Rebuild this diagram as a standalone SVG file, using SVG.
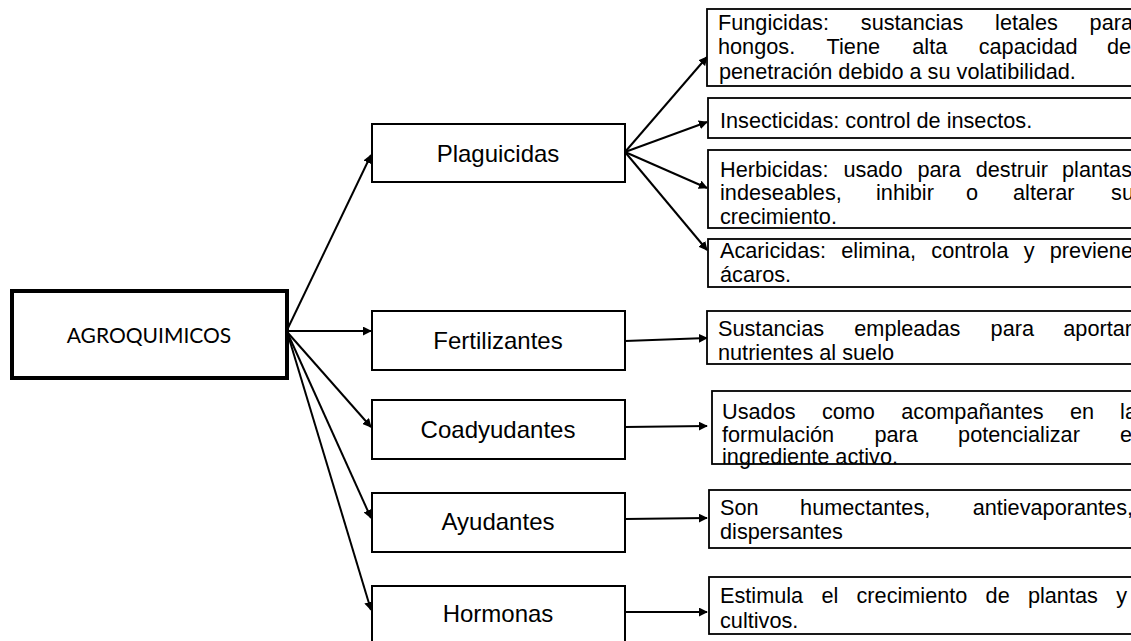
<svg xmlns="http://www.w3.org/2000/svg" width="1131" height="641" viewBox="0 0 1131 641">
<defs>
<style>
.bg{fill:#fff}
.root{fill:#fff;stroke:#000;stroke-width:4}
.mid{fill:#fff;stroke:#000;stroke-width:2}
.leaf{fill:#fff;stroke:#000;stroke-width:1.8}
.mt{font-family:"Liberation Sans",Arial,sans-serif;font-size:24px;fill:#000;text-anchor:middle}
.lt{font-family:"Liberation Sans",Arial,sans-serif;font-size:21.7px;fill:#000}
.e{text-anchor:end}
.rt{font-family:Lato,"Open Sans",sans-serif;font-size:21px;fill:#000;text-anchor:middle}
.c{fill:none;stroke:#000;stroke-width:2;marker-end:url(#ah)}
</style>
<marker id="ah" viewBox="0 0 10 10" refX="9" refY="5" markerWidth="4.5" markerHeight="4.5" orient="auto" markerUnits="strokeWidth">
<path d="M0,0 L10,5 L0,10 z" fill="#000"/>
</marker>
</defs>
<rect class="bg" x="0" y="0" width="1131" height="641"/>

<g id="connectors">
<line class="c" x1="288" y1="328" x2="371" y2="155"/>
<line class="c" x1="288" y1="331" x2="371" y2="331"/>
<line class="c" x1="288" y1="333" x2="371" y2="427"/>
<line class="c" x1="288" y1="334" x2="371" y2="518"/>
<line class="c" x1="288" y1="335" x2="371" y2="610"/>
<line class="c" x1="625" y1="152" x2="707" y2="57"/>
<line class="c" x1="625" y1="152" x2="707" y2="122"/>
<line class="c" x1="625" y1="152" x2="707" y2="188"/>
<line class="c" x1="625" y1="152" x2="707" y2="250"/>
<line class="c" x1="625" y1="341" x2="707" y2="338"/>
<line class="c" x1="625" y1="427" x2="707" y2="426"/>
<line class="c" x1="625" y1="519" x2="707" y2="518"/>
<line class="c" x1="625" y1="612" x2="707" y2="612"/>
</g>

<g id="agroquimicos">
<rect class="root" x="12" y="291" width="275" height="87"/>
<text class="rt" x="149" y="343">AGROQUIMICOS</text>
</g>

<g id="plaguicidas">
<rect class="mid" x="372" y="124" width="253" height="58"/>
<text class="mt" x="498" y="162">Plaguicidas</text>
</g>
<g id="fertilizantes">
<rect class="mid" x="372" y="311" width="253" height="59"/>
<text class="mt" x="498" y="349">Fertilizantes</text>
</g>
<g id="coadyudantes">
<rect class="mid" x="372" y="400" width="253" height="59"/>
<text class="mt" x="498" y="438">Coadyudantes</text>
</g>
<g id="ayudantes">
<rect class="mid" x="372" y="493" width="253" height="59"/>
<text class="mt" x="498" y="530">Ayudantes</text>
</g>
<g id="hormonas">
<rect class="mid" x="372" y="586" width="253" height="60"/>
<text class="mt" x="498" y="622">Hormonas</text>
</g>

<g id="fungicidas">
<rect class="leaf" x="707" y="9" width="440" height="77"/>
<text class="lt" y="30"><tspan x="718">Fungicidas:</tspan><tspan x="860.8">sustancias</tspan><tspan x="995.1">letales</tspan></text>
<text class="lt e" x="1133" y="30">para</text>
<text class="lt" y="54"><tspan x="718">hongos.</tspan><tspan x="826.6">Tiene</tspan><tspan x="912.3">alta</tspan><tspan x="978.7">capacidad</tspan></text>
<text class="lt e" x="1131" y="54">de</text>
<text class="lt" x="719" y="79">penetración debido a su volatibilidad.</text>
</g>
<g id="insecticidas">
<rect class="leaf" x="708" y="98" width="440" height="40"/>
<text class="lt" x="720" y="128">Insecticidas: control de insectos.</text>
</g>
<g id="herbicidas">
<rect class="leaf" x="708" y="150" width="440" height="78"/>
<text class="lt" y="177"><tspan x="720">Herbicidas:</tspan><tspan x="843.4">usado</tspan><tspan x="917.4">para</tspan><tspan x="975.7">destruir</tspan></text>
<text class="lt e" x="1132" y="177">plantas</text>
<text class="lt" y="200"><tspan x="720">indeseables,</tspan><tspan x="876">inhibir</tspan><tspan x="966">o</tspan><tspan x="1013">alterar</tspan></text>
<text class="lt e" x="1134" y="200">su</text>
<text class="lt" x="720" y="224">crecimiento.</text>
</g>
<g id="acaricidas">
<rect class="leaf" x="708" y="239" width="440" height="48"/>
<text class="lt" y="258"><tspan x="720">Acaricidas:</tspan><tspan x="841.3">elimina,</tspan><tspan x="931.3">controla</tspan><tspan x="1023.7">y</tspan></text>
<text class="lt e" x="1133" y="258">previene</text>
<text class="lt" x="720" y="282">ácaros.</text>
</g>
<g id="fert-desc">
<rect class="leaf" x="707" y="311" width="440" height="53"/>
<text class="lt" y="336"><tspan x="718">Sustancias</tspan><tspan x="854.3">empleadas</tspan><tspan x="990.6">para</tspan></text>
<text class="lt e" x="1132" y="336">aportar</text>
<text class="lt" x="718" y="360">nutrientes al suelo</text>
</g>
<g id="coad-desc">
<rect class="leaf" x="712" y="391" width="440" height="73"/>
<text class="lt" y="419"><tspan x="722">Usados</tspan><tspan x="821.9">como</tspan><tspan x="901.3">acompañantes</tspan><tspan x="1069.9">en</tspan></text>
<text class="lt e" x="1137" y="419">la</text>
<text class="lt" y="442"><tspan x="722">formulación</tspan><tspan x="874.4">para</tspan><tspan x="958.1">potencializar</tspan></text>
<text class="lt e" x="1137" y="442">el</text>
<text class="lt" x="722" y="464">ingrediente activo.</text>
</g>
<g id="ayud-desc">
<rect class="leaf" x="709" y="490" width="440" height="58"/>
<text class="lt" y="515"><tspan x="720">Son</tspan><tspan x="800.1">humectantes,</tspan></text>
<text class="lt e" x="1133" y="515">antievaporantes,</text>
<text class="lt" x="720" y="539">dispersantes</text>
</g>
<g id="horm-desc">
<rect class="leaf" x="709" y="577" width="440" height="57"/>
<text class="lt" y="603"><tspan x="720">Estimula</tspan><tspan x="821.4">el</tspan><tspan x="856.5">crecimiento</tspan><tspan x="985.6">de</tspan><tspan x="1027.9">plantas</tspan></text>
<text class="lt e" x="1127" y="603">y</text>
<text class="lt" x="720" y="628">cultivos.</text>
</g>
</svg>
